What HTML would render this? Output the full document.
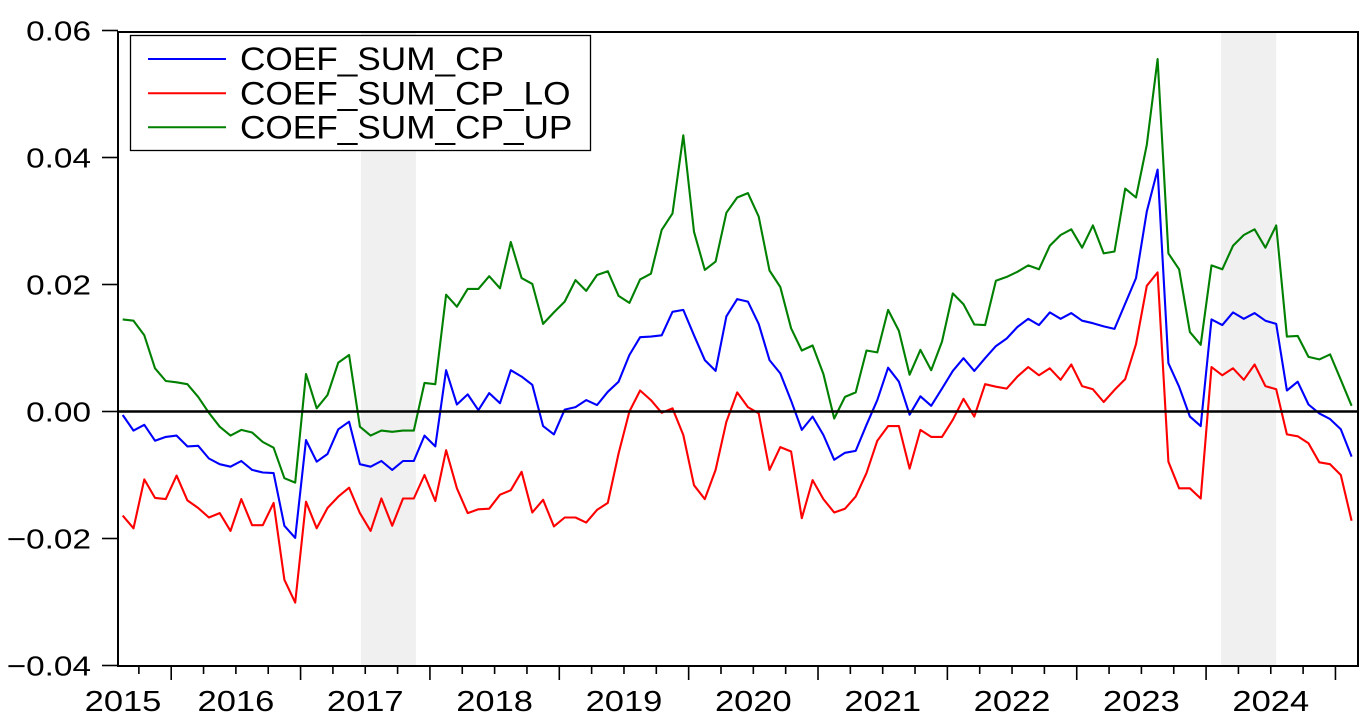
<!DOCTYPE html>
<html><head><meta charset="utf-8"><style>
html,body{margin:0;padding:0;background:#fff;}
svg{display:block;font-family:"Liberation Sans",Arial,sans-serif;}
</style></head><body>
<svg id="chart" width="1372" height="726" viewBox="0 0 1372 726" xmlns="http://www.w3.org/2000/svg">
<rect width="1372" height="726" fill="#fff"/>
<g id="shades"></g>
<g id="grid"></g>
<g id="series"></g>
<g id="axes"></g>
<g id="legend">
 <rect x="130.5" y="35.5" width="460" height="115" fill="#fff" stroke="#000" stroke-width="1.3"/>
 <line x1="148" y1="59" x2="226" y2="59" stroke="#0000ff" stroke-width="2"/>
 <g transform="translate(240,70) scale(1.1,1)"><text x="0" y="0" font-size="32">COEF_SUM_CP</text></g>
 <line x1="148" y1="93.3" x2="226" y2="93.3" stroke="#ff0000" stroke-width="2"/>
 <g transform="translate(240,104.3) scale(1.1,1)"><text x="0" y="0" font-size="32">COEF_SUM_CP_LO</text></g>
 <line x1="148" y1="127.3" x2="226" y2="127.3" stroke="#008000" stroke-width="2"/>
 <g transform="translate(240,138.6) scale(1.1,1)"><text x="0" y="0" font-size="32">COEF_SUM_CP_UP</text></g>
</g>
</svg>
<script>
// values in units of 0.001, monthly from 2015M8
const cpValues = [-0.55,-3.0,-2.1,-4.6,-4.0,-3.8,-5.5,-5.4,-7.4,-8.3,-8.7,-7.8,-9.2,-9.6,-9.7,-18.0,-19.9,-4.5,-7.9,-6.7,-2.8,-1.6,-8.3,-8.7,-7.8,-9.2,-7.8,-7.8,-3.8,-5.5,6.5,1.1,2.7,0.2,2.9,1.3,
6.5,5.5,4.2,-2.3,-3.6,0.3,0.7,1.8,1.0,3.1,4.7,8.9,11.7,11.8,12.0,15.7,16.0,12.0,8.1,6.4,15.0,17.7,17.3,13.8,8.1,6.0,1.7,-2.9,-0.8,-3.7,-7.6,-6.5,-6.2,-2.1,1.8,6.9,4.7,-0.5,
2.4,0.9,3.6,6.4,8.4,6.4,8.4,10.3,11.5,13.3,14.6,13.6,15.6,14.6,15.5,14.3,13.9,13.4,13.0,17.0,21.0,31.5,38.1,7.6,3.9,-0.8,-2.3,14.5,13.6,15.6,14.6,15.5,14.3,13.8,3.3,4.7,1.1,-0.3,-1.2,-2.8,-7.1];
const loValues = [-16.4,-18.4,-10.7,-13.6,-13.8,-10.1,-14.0,-15.2,-16.7,-16.0,-18.8,-13.8,-17.9,-17.9,-14.4,-26.5,-30.1,-14.2,-18.4,-15.2,-13.4,-12.0,-16.0,-18.8,-13.7,-18.0,-13.7,-13.7,-10.0,-14.1,-6.1,-12.1,-16.0,-15.4,-15.3,-13.1,
-12.4,-9.5,-15.9,-13.9,-18.1,-16.7,-16.7,-17.5,-15.5,-14.4,-6.6,0,3.3,1.8,-0.2,0.5,-3.7,-11.6,-13.8,-9.2,-1.6,3.0,0.7,-0.3,-9.2,-5.6,-6.3,-16.8,-10.8,-13.8,-15.9,-15.3,-13.4,-9.7,-4.6,-2.3,-2.3,-9.0,
-2.9,-4.0,-4.0,-1.3,2.0,-0.8,4.3,3.9,3.6,5.5,7.0,5.7,6.8,5.0,7.4,4.0,3.5,1.5,3.4,5.1,10.6,19.8,21.9,-7.9,-12.1,-12.1,-13.7,7.0,5.7,6.8,5.0,7.4,4.0,3.5,-3.6,-3.9,-5.0,-8.0,-8.3,-10.0,-17.2];
const upValues = [14.5,14.3,12.0,6.8,4.8,4.6,4.3,2.3,-0.2,-2.4,-3.8,-2.9,-3.3,-4.8,-5.7,-10.5,-11.2,5.9,0.5,2.6,7.7,8.9,-2.4,-3.8,-3.0,-3.2,-3.0,-3.0,4.5,4.3,18.4,16.5,19.3,19.3,21.3,19.4,
26.7,21.0,20.1,13.8,15.6,17.3,20.7,19.0,21.5,22.1,18.2,17.1,20.8,21.7,28.6,31.2,43.5,28.3,22.3,23.6,31.3,33.7,34.4,30.7,22.2,19.6,13.1,9.6,10.4,5.9,-1.1,2.3,3.0,9.6,9.3,16.0,12.7,5.8,
9.7,6.5,11.0,18.6,16.9,13.7,13.6,20.6,21.2,22.0,23.0,22.4,26.1,27.8,28.7,25.8,29.3,24.9,25.2,35.1,33.7,42.0,55.5,24.9,22.4,12.5,10.5,23.0,22.4,26.1,27.8,28.7,25.8,29.3,11.8,11.9,8.6,8.2,9.0,5.0,0.9];
const yTickValues = [0.06,0.04,0.02,0.00,-0.02,-0.04];
const yTickLabels = ["0.06","0.04","0.02","0.00","\u22120.02","\u22120.04"];
const yearLabels = ["2015","2016","2017","2018","2019","2020","2021","2022","2023","2024"];
const shadeStart = [22.1, 101.9];
const shadeEnd = [27.2, 107.0];

const NS = "http://www.w3.org/2000/svg";
const L = 118, R = 1358, T = 32, B = 666;
function xScale(i){ return 122.7 + i * 10.78; }
function yScale(v){ return 411.5 - v * 6350; }
function mk(tag, attrs, parent){ const e = document.createElementNS(NS, tag); for (const k in attrs) e.setAttribute(k, attrs[k]); parent.appendChild(e); return e; }

const shades = document.getElementById('shades');
for (let k = 0; k < shadeStart.length; k++) {
  const r = mk('rect', {x: xScale(shadeStart[k]), y: T, width: xScale(shadeEnd[k]) - xScale(shadeStart[k]), height: B - T, fill: '#f0f0f0'}, shades);
  
  
}

const axes = document.getElementById('axes');
const z = mk('line', {x1: L, x2: R, y1: yScale(0), y2: yScale(0), stroke: '#000', 'stroke-width': 2.4}, axes);



const series = document.getElementById('series');
function drawLine(vals, color, name){
  const d = vals.map((v, i) => (i ? 'L' : 'M') + xScale(i).toFixed(1) + ' ' + yScale(v / 1000).toFixed(1)).join(' ');
  const p = mk('path', {d: d, fill: 'none', stroke: color, 'stroke-width': 2.1, 'stroke-linejoin': 'round'}, series);
  
  
}
drawLine(upValues, '#008000', 'line-coef-sum-cp-up');
drawLine(loValues, '#ff0000', 'line-coef-sum-cp-lo');
drawLine(cpValues, '#0000ff', 'line-coef-sum-cp');

const fr = mk('rect', {x: L, y: T, width: R - L, height: B - T, fill: 'none', stroke: '#000', 'stroke-width': 2}, axes);



for (let k = 0; k < yTickValues.length; k++) {
  const y = yScale(yTickValues[k]);
  mk('line', {x1: 102, x2: L, y1: y, y2: y, stroke: '#000', 'stroke-width': 1.6}, axes);
  const g = mk('g', {transform: 'translate(91,' + (y + 10) + ') scale(1.19,1)'}, axes);
  const t = mk('text', {x: 0, y: 0, 'font-size': 28, 'text-anchor': 'end'}, g);
  t.textContent = yTickLabels[k];
  
  
}
const yearStartIdx = 4.5;
for (let q = -2; q <= 37; q++) {
  const x = xScale(yearStartIdx + q * 3);
  if (x < L + 2 || x > R - 2) continue;
  const major = (q % 4 === 0);
  mk('line', {x1: x, x2: x, y1: B, y2: major ? 680 : 674, stroke: '#000', 'stroke-width': 1.6}, axes);
}
for (let k = 0; k < yearLabels.length; k++) {
  let cx = k === 0 ? 123 : xScale(yearStartIdx + (k - 1) * 12 + 6);
  const g = mk('g', {transform: 'translate(' + cx + ',711) scale(1.19,1)'}, axes);
  const t = mk('text', {x: 0, y: 0, 'font-size': 29, 'text-anchor': 'middle'}, g);
  t.textContent = yearLabels[k];
  
  
}
</script>
</body></html>
